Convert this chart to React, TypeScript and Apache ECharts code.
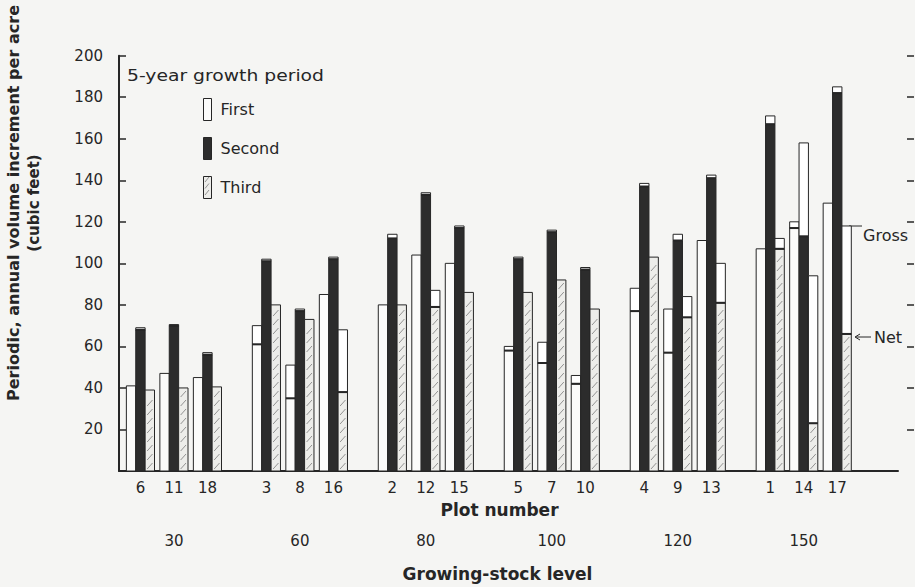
import React, { useEffect, useRef } from "react";
import * as echarts from "echarts";

// ---- data ----
const plots = ["6", "11", "18", "3", "8", "16", "2", "12", "15", "5", "7", "10", "4", "9", "13", "1", "14", "17"];
const levels = ["30", "60", "80", "100", "120", "150"];
const periods = ["First", "Second", "Third"];

const firstGross = [41, 47, 45, 70, 51, 85, 80, 104, 100, 60, 62, 46, 88, 78, 111, 107, 120, 129];
const firstNet = [41, 47, 45, 61, 35, 85, 80, 104, 100, 58, 52, 42, 77, 57, 111, 107, 117, 129];
const secondGross = [69, 70.5, 57, 102, 78, 103, 114, 134, 118, 103, 116, 98, 138.5, 114, 142.5, 171, 158, 185];
const secondNet = [68, 70, 56, 101, 77, 102, 112, 133, 117, 102, 115, 97, 137, 111, 141, 167, 113, 182];
const thirdGross = [39, 40, 40.5, 80, 73, 68, 80, 87, 86, 86, 92, 78, 103, 84, 100, 112, 94, 118];
const thirdNet = [39, 40, 40.5, 80, 73, 38, 80, 79, 86, 86, 92, 78, 103, 74, 81, 107, 23, 66];

const yTicks = [0, 20, 40, 60, 80, 100, 120, 140, 160, 180, 200];

// ---- layout constants ----
const GROUP_STEP = 3.76; // slot units between groups
const BAR_W = 0.28; // slot units per bar
const FONT = "'DejaVu Sans', Verdana, sans-serif";
const INK = "#262626";

const positions = plots.map((_, i) => Math.floor(i / 3) * GROUP_STEP + (i % 3));
const middlePositions = levels.map((_, g) => g * GROUP_STEP + 1);

const grossSets = [firstGross, secondGross, thirdGross];
const netSets = [firstNet, secondNet, thirdNet];

function lookup(v: number, pos: number[], labels: string[]) {
  const i = pos.findIndex((p) => Math.abs(p - v) < 1e-6);
  return i >= 0 ? labels[i] : "";
}

function makeRender(k: number) {
  return (params: any, api: any) => {
    const x = api.value(0);
    const g = api.value(1);
    const n = api.value(2);
    const bw = api.size([BAR_W, 0])[0];
    const pG = api.coord([x, g]);
    const pN = api.coord([x, n]);
    const p0 = api.coord([x, 0]);
    const left = pG[0] + (k - 1.5) * bw;
    const children: any[] = [];
    const fill = k === 1 ? "#2c2c2c" : k === 2 ? "#ededea" : "#fbfbfa";
    children.push({
      type: "rect",
      shape: { x: left, y: pN[1], width: bw, height: p0[1] - pN[1] },
      style: { fill, stroke: INK, lineWidth: 1 },
    });
    if (k === 2) {
      for (let y = p0[1] - 5; y > pN[1] + 5; y -= 9) {
        children.push({
          type: "line",
          shape: { x1: left + 2, y1: y + 3, x2: left + bw - 2, y2: y - 3 },
          style: { stroke: "#888", lineWidth: 0.9 },
        });
      }
    }
    if (g > n) {
      children.push({
        type: "rect",
        shape: { x: left, y: pG[1], width: bw, height: pN[1] - pG[1] },
        style: { fill: "#ffffff", stroke: INK, lineWidth: 1 },
      });
      children.push({
        type: "line",
        shape: { x1: left, y1: pN[1], x2: left + bw, y2: pN[1] },
        style: { stroke: INK, lineWidth: 2 },
      });
    }
    return { type: "group", children };
  };
}

export default function App() {
  const ref = useRef<HTMLDivElement>(null);
  useEffect(() => {
    if (!ref.current) return;
    const chart = echarts.init(ref.current, null, { renderer: "svg" });
    const series = periods.map((name, k) => ({
      type: "custom",
      name,
      renderItem: makeRender(k),
      encode: { x: 0, y: [1, 2] },
      itemStyle: { color: k === 1 ? "#2c2c2c" : "#fbfbfa", borderColor: INK, borderWidth: 1 },
      data: positions.map((p, i) => [p, grossSets[k][i], netSets[k][i]]),
      clip: false,
    }));

    const gridLeft = 119;
    const gridRight = 898;
    const unitPx = 33.5;
    const xMin = -0.64;
    const xMax = xMin + (gridRight - gridLeft) / unitPx;

    const legendTop = 98;
    const legendStep = 38;
    const hatch: any[] = [];
    for (let j = 0; j < 3; j++) {
      const y = legendTop + 2 * legendStep + 5 + j * 6.5;
      hatch.push({
        type: "line",
        shape: { x1: 205, y1: y + 3, x2: 209, y2: y - 2 },
        style: { stroke: "#888", lineWidth: 0.9 },
        z: 100,
      });
    }

    chart.setOption({
      animation: false,
      backgroundColor: "#f5f5f3",
      textStyle: { fontFamily: FONT },
      grid: { left: gridLeft, right: 915 - gridRight, top: 55.7, bottom: 587 - 473 },
      legend: {
        orient: "vertical",
        left: 203,
        top: legendTop,
        padding: 0,
        itemWidth: 8,
        itemHeight: 22,
        itemGap: 16,
        icon: "rect",
        selectedMode: false,
        textStyle: { fontSize: 16, color: INK, fontFamily: FONT, padding: [0, 0, 0, 4] },
        data: [
          { name: "First", itemStyle: { color: "#fbfbfa", borderColor: INK, borderWidth: 1 } },
          { name: "Second", itemStyle: { color: "#2c2c2c", borderColor: INK, borderWidth: 1 } },
          { name: "Third", itemStyle: { color: "#ededea", borderColor: INK, borderWidth: 1 } },
        ],
      },
      xAxis: [
        {
          type: "value",
          min: xMin,
          max: xMax,
          position: "bottom",
          splitLine: { show: false },
          axisTick: { show: false },
          axisLine: { show: true, onZero: false, lineStyle: { color: INK, width: 2 } },
          axisLabel: {
            customValues: positions,
            formatter: (v: number) => lookup(v, positions, plots),
            fontSize: 15,
            color: INK,
            margin: 9,
            fontFamily: FONT,
          },
          name: "Plot number",
          nameLocation: "middle",
          nameGap: 30,
          nameTextStyle: { fontSize: 17, fontWeight: "bold", color: INK, fontFamily: FONT, padding: [0, 18, 0, 0] },
        },
        {
          type: "value",
          min: xMin,
          max: xMax,
          position: "bottom",
          splitLine: { show: false },
          axisTick: { show: false },
          axisLine: { show: false, onZero: false },
          axisLabel: {
            customValues: middlePositions,
            formatter: (v: number) => lookup(v, middlePositions, levels),
            fontSize: 15,
            color: INK,
            margin: 62,
            fontFamily: FONT,
          },
          name: "Growing-stock level",
          nameLocation: "middle",
          nameGap: 94,
          nameTextStyle: { fontSize: 17, fontWeight: "bold", color: INK, fontFamily: FONT, padding: [0, 22, 0, 0] },
        },
      ],
      yAxis: [
        {
          type: "value",
          min: 0,
          max: 200,
          interval: 20,
          splitLine: { show: false },
          axisLine: { show: true, onZero: false, lineStyle: { color: INK, width: 2 } },
          axisTick: { show: true, inside: true, length: 7, lineStyle: { color: INK, width: 1.5 } },
          axisLabel: {
            formatter: (v: number) => (v === 0 ? "" : String(v)),
            fontSize: 15,
            color: INK,
            margin: 16,
            fontFamily: FONT,
          },
        },
        {
          type: "value",
          min: 0,
          max: 200,
          interval: 20,
          position: "right",
          offset: 914 - gridRight,
          splitLine: { show: false },
          axisLine: { show: false, onZero: false },
          axisTick: { show: true, inside: true, length: 7, lineStyle: { color: INK, width: 1.5 }, customValues: yTicks.slice(1) },
          axisLabel: { show: false },
        },
      ],
      graphic: [
        {
          type: "text",
          x: 14,
          y: 203,
          rotation: Math.PI / 2,
          scaleX: 1.07,
          style: {
            text: "Periodic, annual volume increment per acre",
            fill: INK,
            font: `bold 15px ${FONT}`,
            align: "center",
            verticalAlign: "middle",
          },
        },
        {
          type: "text",
          x: 34,
          y: 203,
          rotation: Math.PI / 2,
          style: {
            text: "(cubic feet)",
            font: `bold 15px ${FONT}`,
            fill: INK,
            align: "center",
            verticalAlign: "middle",
          },
        },
        {
          type: "text",
          x: 127,
          y: 76,
          scaleX: 1.25,
          style: { text: "5-year growth period", font: `15px ${FONT}`, fill: INK, verticalAlign: "middle" },
        },
        {
          type: "line",
          shape: { x1: 849, y1: 226, x2: 862, y2: 226 },
          style: { stroke: INK, lineWidth: 1 },
        },
        {
          type: "text",
          x: 863,
          y: 235,
          style: { text: "Gross", font: `16px ${FONT}`, fill: INK, verticalAlign: "middle" },
        },
        {
          type: "line",
          shape: { x1: 856, y1: 337, x2: 871, y2: 337 },
          style: { stroke: INK, lineWidth: 1 },
        },
        {
          type: "polyline",
          shape: { points: [[860, 334], [855, 337], [860, 340]] },
          style: { stroke: INK, lineWidth: 1, fill: "none" },
        },
        {
          type: "text",
          x: 874,
          y: 337,
          style: { text: "Net", font: `16px ${FONT}`, fill: INK, verticalAlign: "middle" },
        },
        ...hatch,
      ],
      series,
    });
    return () => chart.dispose();
  }, []);
  return <div ref={ref} style={{ position: "fixed", left: 0, top: 0, width: 915, height: 587 }} />;
}
